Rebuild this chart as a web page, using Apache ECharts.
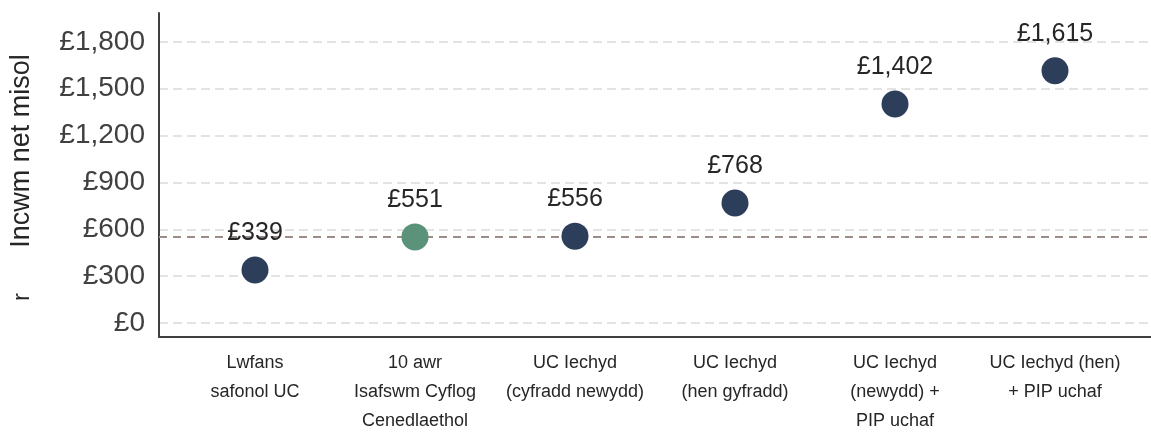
<!DOCTYPE html>
<html>
<head>
<meta charset="utf-8">
<script src="https://cdn.jsdelivr.net/npm/echarts@6/dist/echarts.min.js"></script>
<style>
  html, body { margin: 0; padding: 0; background: #fff; }
  #chart { width: 1151px; height: 441px; }
</style>
</head>
<body>
<div id="chart"></div>
<script>
// categories (x axis)
const categories = [
  'Lwfans\nsafonol UC',
  '10 awr\nIsafswm Cyflog\nCenedlaethol',
  'UC Iechyd\n(cyfradd newydd)',
  'UC Iechyd\n(hen gyfradd)',
  'UC Iechyd\n(newydd) +\nPIP uchaf',
  'UC Iechyd (hen)\n+ PIP uchaf'
];
// monthly net income, £
const incomes = [339, 551, 556, 768, 1402, 1615];
// y axis tick labels
const yTicks = [0, 300, 600, 900, 1200, 1500, 1800];
const xTicks = [0, 1, 2, 3, 4, 5];
// dashed reference line (minimum wage level)
const refLine = 551;
const highlightIdx = 1;

const FONT = '"Liberation Sans", Arial, sans-serif';
const NAVY = '#2d3e5b';
const GREEN = '#5a927a';

const fmt = v => '£' + Number(v).toLocaleString('en-GB');

let chart = echarts.init(document.getElementById('chart'));
chart.setOption({
  animation: false,
  textStyle: { fontFamily: FONT },
  grid: { left: 159, right: 0, top: 13, bottom: 104 },
  graphic: [
    {
      type: 'text',
      x: 22, y: 151,
      rotation: Math.PI / 2,
      style: {
        text: 'Incwm net misol',
        font: '27px ' + FONT,
        fill: '#262626',
        align: 'center',
        verticalAlign: 'middle'
      }
    },
    {
      type: 'text',
      x: 22, y: 297,
      rotation: Math.PI / 2,
      style: {
        text: 'r',
        font: '24px ' + FONT,
        fill: '#262626',
        align: 'center',
        verticalAlign: 'middle'
      }
    }
  ],
  xAxis: {
    type: 'value',
    min: -0.6,
    max: 5.6,
    axisLine: { onZero: false, lineStyle: { color: '#404040', width: 2 } },
    axisTick: { show: false },
    splitLine: { show: false },
    axisLabel: {
      customValues: xTicks,
      formatter: v => categories[v],
      color: '#262626',
      fontSize: 18,
      lineHeight: 29,
      margin: 12,
      align: 'center'
    }
  },
  yAxis: {
    type: 'value',
    min: -90,
    max: 1985,
    axisLine: { show: true, onZero: false, lineStyle: { color: '#404040', width: 2 } },
    axisTick: { show: false, customValues: yTicks },
    axisLabel: {
      customValues: yTicks,
      formatter: fmt,
      color: '#404040',
      fontSize: 28,
      margin: 14
    },
    splitLine: {
      show: true,
      lineStyle: { color: '#e3e3e3', width: 2, type: [9, 5] }
    }
  },
  series: [
    {
      type: 'line',
      data: [],
      z: 1,
      markLine: {
        silent: true,
        symbol: 'none',
        label: { show: false },
        lineStyle: { color: '#9b8b85', width: 2, type: [8, 6] },
        data: [{ yAxis: refLine }]
      }
    },
    {
      type: 'scatter',
      symbolSize: 27,
      data: incomes.map((v, i) => [i, v]),
      itemStyle: {
        opacity: 1,
        color: p => p.dataIndex === highlightIdx ? GREEN : NAVY
      },
      label: {
        show: true,
        position: 'top',
        distance: 11,
        formatter: p => fmt(p.value[1]),
        color: '#262626',
        fontSize: 25
      },
      z: 5
    }
  ]
});
</script>
</body>
</html>
